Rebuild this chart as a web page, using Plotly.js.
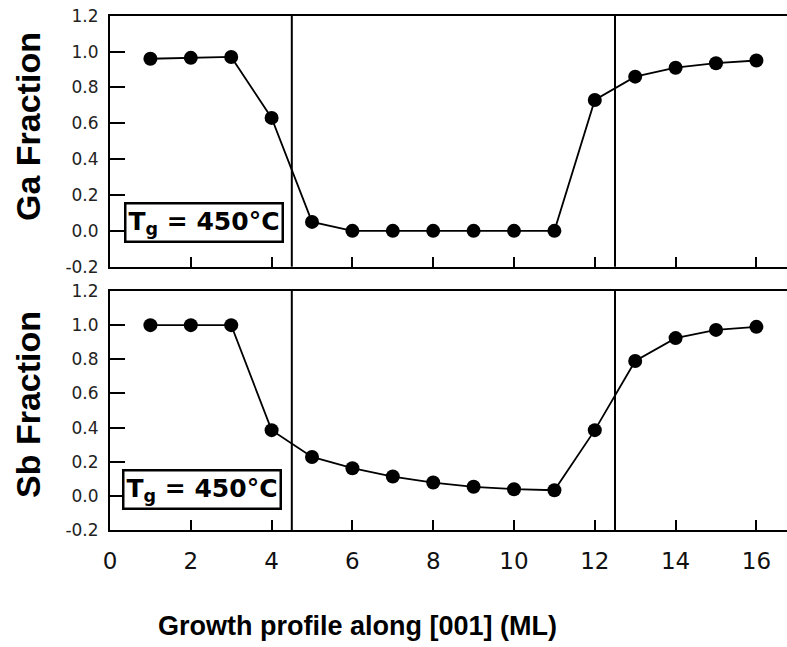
<!DOCTYPE html>
<html>
<head>
<meta charset="utf-8">
<script src="https://cdn.plot.ly/plotly-3.0.1.min.js"></script>
<style>
  html, body { margin: 0; padding: 0; background: #fff; }
  #chart { width: 787px; height: 647px; }
</style>
</head>
<body>
<div id="chart"></div>
<script>
// Monolayer index along the growth direction
const monolayer = [1, 2, 3, 4, 5, 6, 7, 8, 9, 10, 11, 12, 13, 14, 15, 16];
// Group-III (Ga) and group-V (Sb) fractions per monolayer
const gaFraction = [0.96, 0.965, 0.97, 0.63, 0.05, 0, 0, 0, 0, 0, 0, 0.73, 0.86, 0.91, 0.935, 0.95];
const sbFraction = [1.0, 1.0, 1.0, 0.385, 0.228, 0.162, 0.113, 0.078, 0.053, 0.039, 0.033, 0.385, 0.79, 0.924, 0.972, 0.99];
// Interface positions (ML)
const interfaces = [4.5, 12.5];
const yTickVals = [-0.2, 0, 0.2, 0.4, 0.6, 0.8, 1.0, 1.2];
const yTickText = ['-0.2', '0.0', '0.2', '0.4', '0.6', '0.8', '1.0', '1.2'];
const xTickVals = [0, 2, 4, 6, 8, 10, 12, 14, 16];
const tgLabel = 'T<sub>g</sub> = 450°C';

const W = 787, H = 647;
const px = v => v / W;
const py = v => (H - v) / H;

const markerStyle = { color: '#000', size: 14, symbol: 'circle' };
const lineStyle = { color: '#000', width: 1.8 };

const traces = [
  { x: monolayer, y: gaFraction, xaxis: 'x', yaxis: 'y', mode: 'lines+markers',
    marker: markerStyle, line: lineStyle, hoverinfo: 'x+y' },
  { x: monolayer, y: sbFraction, xaxis: 'x2', yaxis: 'y2', mode: 'lines+markers',
    marker: markerStyle, line: lineStyle, hoverinfo: 'x+y' }
];

const xRange = [0, (W - 110) / 40.4];

function xAxis(anchor, showLabels) {
  return {
    domain: [px(110), 1], range: xRange, anchor: anchor,
    tickmode: 'array', tickvals: xTickVals,
    ticks: 'inside', ticklen: 10, tickwidth: 2, tickcolor: '#000',
    showticklabels: showLabels,
    tickfont: { family: 'DejaVu Sans', size: 23, color: '#111' },
    ticklabelstandoff: 9,
    showline: true, linecolor: '#000', linewidth: 2, mirror: true,
    showgrid: false, zeroline: false, automargin: false
  };
}
function yAxis(anchor, top, bottom) {
  return {
    domain: [py(bottom), py(top)], range: [-0.2, 1.2], anchor: anchor,
    tickmode: 'array', tickvals: yTickVals, ticktext: yTickText,
    ticks: 'inside', ticklen: 15, tickwidth: 2, tickcolor: '#000',
    tickfont: { family: 'DejaVu Sans', size: 17, color: '#222' },
    ticklabelstandoff: 6,
    showline: true, linecolor: '#000', linewidth: 2,
    showgrid: false, zeroline: false, automargin: false
  };
}

const shapes = [];
interfaces.forEach(xv => {
  shapes.push({ type: 'line', xref: 'x', yref: 'y domain', x0: xv, x1: xv, y0: 0, y1: 1,
                line: { color: '#000', width: 2 } });
  shapes.push({ type: 'line', xref: 'x2', yref: 'y2 domain', x0: xv, x1: xv, y0: 0, y1: 1,
                line: { color: '#000', width: 2 } });
});

const boxFont = { family: 'DejaVu Sans', size: 25, color: '#000', weight: 'bold' };
const titleFont = { family: 'Liberation Sans', size: 34, color: '#000', weight: 'bold' };

const annotations = [
  { text: tgLabel, xref: 'paper', yref: 'paper', x: px(204), y: py(222),
    xanchor: 'center', yanchor: 'middle', showarrow: false, font: boxFont,
    bordercolor: '#000', borderwidth: 2.5, borderpad: 2, bgcolor: '#fff' },
  { text: tgLabel, xref: 'paper', yref: 'paper', x: px(202), y: py(489.5),
    xanchor: 'center', yanchor: 'middle', showarrow: false, font: boxFont,
    bordercolor: '#000', borderwidth: 2.5, borderpad: 2, bgcolor: '#fff' },
  { text: 'Ga Fraction', xref: 'paper', yref: 'paper', x: px(28), y: py(127),
    xanchor: 'center', yanchor: 'middle', textangle: -90, showarrow: false, font: titleFont },
  { text: 'Sb Fraction', xref: 'paper', yref: 'paper', x: px(28), y: py(405),
    xanchor: 'center', yanchor: 'middle', textangle: -90, showarrow: false, font: titleFont },
  { text: 'Growth profile along [001] (ML)', xref: 'paper', yref: 'paper', x: px(357), y: py(626),
    xanchor: 'center', yanchor: 'middle', showarrow: false,
    font: { family: 'Liberation Sans', size: 27, color: '#000', weight: 'bold' } }
];

const layout = {
  width: W, height: H,
  margin: { l: 0, r: 0, t: 0, b: 0 },
  paper_bgcolor: '#fff', plot_bgcolor: '#fff',
  showlegend: false,
  xaxis: xAxis('y', false),
  yaxis: yAxis('x', 15.7, 266.7),
  xaxis2: xAxis('y2', true),
  yaxis2: yAxis('x2', 291, 530),
  shapes: shapes,
  annotations: annotations
};

Plotly.newPlot('chart', traces, layout, { staticPlot: true, displayModeBar: false });
</script>
</body>
</html>
